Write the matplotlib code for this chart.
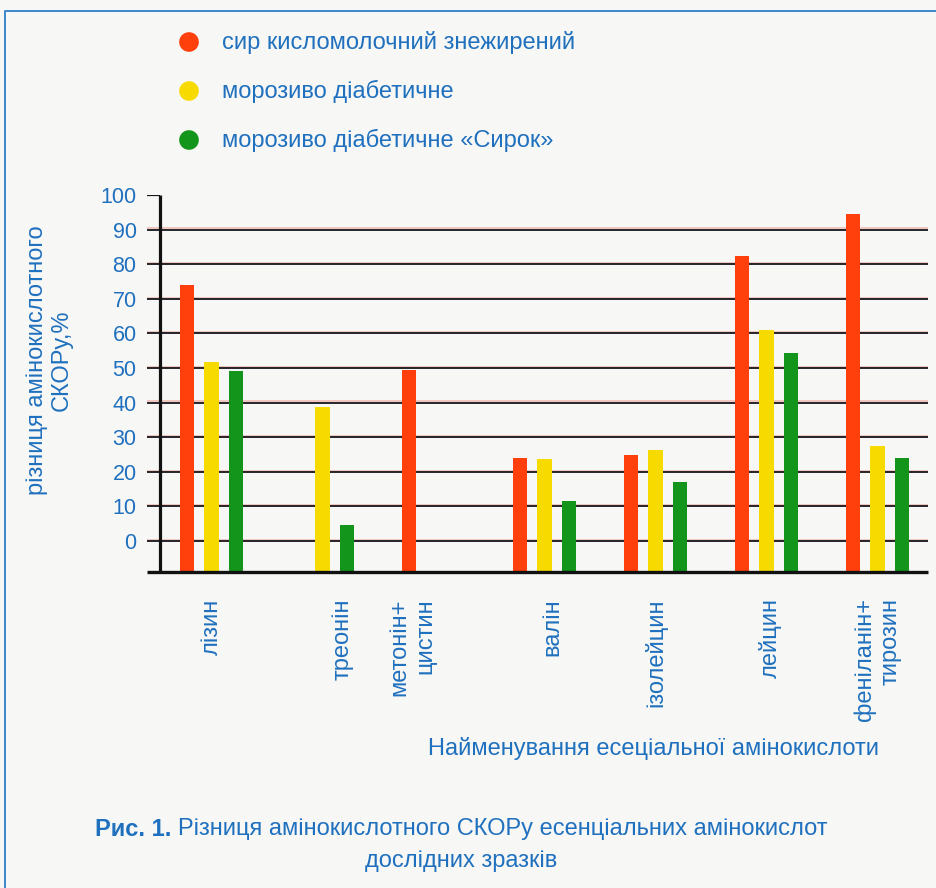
#!/usr/bin/env python3
"""Amino-acid score difference of essential amino acids for three test samples."""

import matplotlib
matplotlib.use("Agg")
import matplotlib.pyplot as plt
import numpy as np
from matplotlib import font_manager
from matplotlib import patheffects as pe

AMINO_ACIDS = ["лізин", "треонін", "метонін+\nцистин", "валін",
               "ізолейцин", "лейцин", "феніланін+\nтирозин"]
SERIES = ["сир кисломолочний знежирений",
          "морозиво діабетичне",
          "морозиво діабетичне «Сирок»"]
# NaN = no bar for that sample
CHEESE = [74.0, np.nan, 49.4, 24.0, 24.8, 82.4, 94.4]
ICE_CREAM = [51.7, 38.7, np.nan, 23.8, 26.3, 61.1, 27.5]
ICE_CREAM_SYROK = [49.1, 4.5, np.nan, 11.4, 16.9, 54.4, 24.0]
Y_TICKS = list(range(0, 101, 10))

COLORS = ["#FF3F0C", "#F6DA00", "#12951A"]
BLUE = "#1F70BE"
PAPER = "#F7F7F5"

installed = {f.name for f in font_manager.fontManager.ttflist}
FONT = "Liberation Sans Narrow" if "Liberation Sans Narrow" in installed else "Liberation Sans"
plt.rcParams["font.family"] = [FONT, "DejaVu Sans"]

W, H = 936, 888
fig = plt.figure(figsize=(W / 100, H / 100), dpi=100, facecolor=PAPER)

# pixel-space overlay for frame, legend and captions
deco = fig.add_axes([0, 0, 1, 1], zorder=0)
deco.set_xlim(0, W)
deco.set_ylim(H, 0)
deco.axis("off")
deco.plot([5, 5, W], [H, 11, 11], color="#3C86CC", lw=1.4)

legend_y = [42, 91, 140]
for color, label, y in zip(COLORS, SERIES, legend_y):
    deco.scatter(189, y, s=200, color=color, edgecolors="none")
    deco.text(222, y, label, color=BLUE, fontsize=17, va="center", ha="left")

# main chart, px 147..928 horizontally, 195..572 vertically
YMIN, YMAX = -9.0, 100.0
GROUP_PX = 111.0
ax = fig.add_axes([147 / W, 1 - 572 / H, (928 - 147) / W, (572 - 195) / H], zorder=1)
ax.set_facecolor("none")
x_left = (147 - 211.5) / GROUP_PX
x_right = (928 - 211.5) / GROUP_PX
x_axis = (160 - 211.5) / GROUP_PX
ax.set_xlim(x_left, x_right)
ax.set_ylim(YMIN, YMAX)
for spine in ax.spines.values():
    spine.set_visible(False)

# print misregistration leaves a faint red edge on the rules
grid_fx = [pe.SimpleLineShadow(offset=(0, 0.8), shadow_color="#E04A30", alpha=0.3), pe.Normal()]
ax.hlines(Y_TICKS[:-1], x_left, x_right, color="#15151C", lw=1.3, zorder=1,
          path_effects=grid_fx)
ax.hlines(Y_TICKS[-1], x_left, x_axis, color="#15151C", lw=1.6, zorder=1)
ax.plot([x_axis, x_axis], [YMIN, YMAX], color="#111111", lw=2.3, zorder=4,
        clip_on=False, solid_capstyle="butt")
ax.plot([x_left, x_right], [YMIN, YMIN], color="#111111", lw=2.4, zorder=4,
        clip_on=False, solid_capstyle="butt")

x = np.arange(len(AMINO_ACIDS))
offsets = [-0.22, 0.0, 0.22]
for vals, color, off in zip([CHEESE, ICE_CREAM, ICE_CREAM_SYROK], COLORS, offsets):
    vals = np.asarray(vals)
    keep = ~np.isnan(vals)
    ax.bar(x[keep] + off, vals[keep] - YMIN, bottom=YMIN, width=0.13,
           color=color, edgecolor="none", zorder=3)

ax.set_yticks(Y_TICKS)
ax.set_yticklabels([str(t) for t in Y_TICKS], color=BLUE, fontsize=15.5)
ax.tick_params(axis="y", length=0, pad=7.5)

label_shift = [0.0, 0.18, -0.19, 0.07, 0.0, 0.03, 0.0]
ax.set_xticks(x + np.array(label_shift))
ax.set_xticklabels(AMINO_ACIDS, rotation=90, color=BLUE, fontsize=17,
                   ha="center", va="top")
for lbl in ax.get_xticklabels():
    lbl.set_multialignment("right")
ax.tick_params(axis="x", length=0, pad=19)

fig.text(49 / W, 1 - 360 / H, "різниця амінокислотного\nСКОРу,%", rotation=90,
         ha="center", va="center", multialignment="center", color=BLUE,
         fontsize=17, linespacing=1.15)
fig.text(653 / W, 1 - 748 / H, "Найменування есеціальної амінокислоти",
         ha="center", va="center", color=BLUE, fontsize=17)

# caption: bold figure number followed by regular text, centred as one line
renderer = fig.canvas.get_renderer()
bold = deco.text(0, 829, "Рис. 1. ", color=BLUE, fontsize=17, fontweight="bold",
                 va="center", ha="left")
rest = deco.text(0, 829, "Різниця амінокислотного СКОРу есенціальних амінокислот",
                 color=BLUE, fontsize=17, va="center", ha="left")
wb = bold.get_window_extent(renderer).width
wr = rest.get_window_extent(renderer).width
start = 461 - (wb + wr) / 2
bold.set_x(start)
rest.set_x(start + wb)
deco.text(461, 861, "дослідних зразків", color=BLUE, fontsize=17,
          ha="center", va="center")

fig.savefig("out.png", dpi=100, facecolor=PAPER)
